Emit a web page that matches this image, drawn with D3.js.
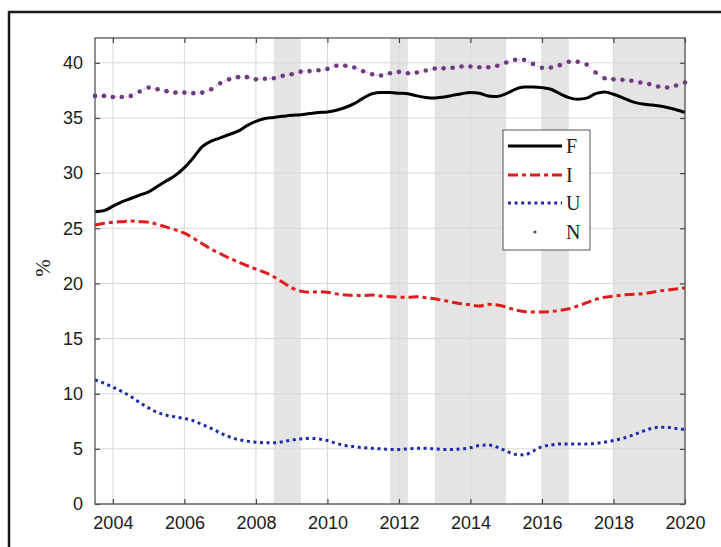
<!DOCTYPE html>
<html><head><meta charset="utf-8">
<script src="https://cdn.jsdelivr.net/npm/d3@7"></script>
<style>html,body{margin:0;padding:0;background:#fff;}svg{display:block;}</style>
</head><body>
<svg id="chart" width="721" height="547"></svg>
<script>
// Quarterly observations, first = 2003 Q3 (2003.5), last = 2020 Q1 (2020.0)
const startTime = 2003.5;
const stepTime = 0.25;
const seriesNames = ["F", "I", "U", "N"];
const F = [26.5,26.6,
  27.0,27.4,27.7,28.0, 28.3,28.8,29.3,29.8, 30.5,31.4,32.4,32.9, 33.2,33.5,33.8,34.3,
  34.7,34.95,35.05,35.15, 35.25,35.3,35.4,35.5, 35.55,35.7,35.95,36.3, 36.8,37.2,37.3,37.3,
  37.25,37.2,37.0,36.85, 36.8,36.9,37.05,37.2, 37.3,37.25,37.0,36.95, 37.2,37.6,37.8,37.8,
  37.75,37.6,37.2,36.85, 36.7,36.8,37.2,37.35, 37.15,36.85,36.5,36.3, 36.2,36.1,35.95,35.75,
  35.5];
const I = [25.3,25.45,
  25.55,25.6,25.65,25.6, 25.55,25.35,25.1,24.85, 24.55,24.1,23.6,23.1, 22.7,22.3,21.95,21.6,
  21.3,21.0,20.6,20.1, 19.6,19.3,19.2,19.25, 19.2,19.05,18.95,18.9, 18.9,18.95,18.85,18.8,
  18.75,18.75,18.8,18.7, 18.6,18.45,18.3,18.15, 18.05,17.95,18.1,18.05, 17.85,17.6,17.45,17.4,
  17.4,17.45,17.55,17.7, 17.95,18.25,18.55,18.75, 18.85,18.95,19.0,19.05, 19.15,19.3,19.4,19.5,
  19.6];
const U = [11.25,10.95,
  10.6,10.2,9.75,9.2, 8.7,8.3,8.05,7.9, 7.75,7.55,7.2,6.85, 6.45,6.1,5.85,5.7,
  5.6,5.55,5.55,5.65, 5.8,5.9,5.95,5.9, 5.75,5.5,5.3,5.2, 5.1,5.05,5.0,4.95,
  4.95,5.0,5.05,5.05, 5.0,4.95,4.95,5.0, 5.1,5.3,5.35,5.15, 4.8,4.5,4.45,4.8,
  5.2,5.35,5.45,5.45, 5.45,5.45,5.5,5.6, 5.75,5.95,6.2,6.5, 6.8,6.95,6.95,6.85,
  6.75];
const N = [37.0,37.0,
  36.9,36.9,37.0,37.4, 37.76,37.6,37.43,37.3, 37.3,37.25,37.3,37.6, 38.15,38.5,38.7,38.7,
  38.5,38.55,38.6,38.82, 38.97,39.2,39.25,39.33, 39.45,39.73,39.73,39.57, 39.24,38.97,38.85,39.06,
  39.18,39.06,39.12,39.3, 39.48,39.5,39.55,39.67, 39.67,39.6,39.6,39.73, 40.03,40.27,40.27,39.9,
  39.55,39.57,39.79,40.1, 40.09,39.85,39.12,38.6, 38.5,38.46,38.37,38.22, 38.07,37.85,37.76,37.94,
  38.22];
// Shaded periods (start, end)
const bandStarts = [2008.5, 2011.75, 2013.0, 2016.0, 2018.0];
const bandEnds   = [2009.25, 2012.25, 2015.0, 2016.75, 2020.0];
const xTicks = [2004, 2006, 2008, 2010, 2012, 2014, 2016, 2018, 2020];
const yTicks = [0, 5, 10, 15, 20, 25, 30, 35, 40];
const yLabel = "%";

const svg = d3.select("#chart");
const L = 95, R = 685, T = 38, B = 504;
const x = d3.scaleLinear().domain([2003.5, 2020]).range([L, R]);
const y = d3.scaleLinear().domain([0, 42.25]).range([B, T]);
const times = F.map((_, i) => startTime + i * stepTime);

// outer frame
svg.append("rect").attr("x", 9).attr("y", 12).attr("width", 900).attr("height", 700)
  .attr("fill", "none").attr("stroke", "#1a1a1a").attr("stroke-width", 2.5);

const plot = svg.append("g");
// bands
plot.selectAll("rect.band").data(bandStarts).enter().append("rect").attr("class", "band")
  .attr("x", d => x(d)).attr("y", T)
  .attr("width", (d, i) => x(bandEnds[i]) - x(d)).attr("height", B - T)
  .attr("fill", "#e4e4e4");
// grid
plot.selectAll("line.gx").data(xTicks).enter().append("line")
  .attr("x1", d => x(d)).attr("x2", d => x(d)).attr("y1", T).attr("y2", B)
  .attr("stroke", "#d8d8d8").attr("stroke-width", 1);
plot.selectAll("line.gy").data(yTicks).enter().append("line")
  .attr("y1", d => y(d)).attr("y2", d => y(d)).attr("x1", L).attr("x2", R)
  .attr("stroke", "#d8d8d8").attr("stroke-width", 1);

// axes
const fontSans = "Liberation Sans, Arial, Helvetica, sans-serif";
const xAxis = svg.append("g").attr("transform", `translate(0,${B})`)
  .call(d3.axisBottom(x).tickValues(xTicks).tickFormat(d3.format("d")).tickSizeInner(-5).tickSizeOuter(0).tickPadding(12));
const xAxisTop = svg.append("g").attr("transform", `translate(0,${T})`)
  .call(d3.axisTop(x).tickValues(xTicks).tickFormat("").tickSizeInner(-5).tickSizeOuter(0));
const yAxis = svg.append("g").attr("transform", `translate(${L},0)`)
  .call(d3.axisLeft(y).tickValues(yTicks).tickSizeInner(-5).tickSizeOuter(0).tickPadding(12));
const yAxisR = svg.append("g").attr("transform", `translate(${R},0)`)
  .call(d3.axisRight(y).tickValues(yTicks).tickFormat("").tickSizeInner(-5).tickSizeOuter(0));
[xAxis, xAxisTop, yAxis, yAxisR].forEach(a => {
  a.select(".domain").remove();
  a.selectAll(".tick line").attr("stroke", "#444").attr("stroke-width", 1.2);
  a.selectAll("text").attr("font-family", fontSans).attr("font-size", 18).attr("fill", "#1a1a1a");
});

// series
const lineGen = vals => d3.line().x((d, i) => x(times[i])).y(d => y(d)).curve(d3.curveMonotoneX)(vals);
plot.append("path").attr("d", lineGen(N)).attr("fill", "none")
  .attr("stroke", "#e7c3e4").attr("stroke-width", 1.5).attr("stroke-dasharray", "2,3");
plot.selectAll("circle.n").data(N).enter().append("circle")
  .attr("cx", (d, i) => x(times[i])).attr("cy", d => y(d)).attr("r", 2.3).attr("fill", "#6e3a80");
plot.append("path").attr("d", lineGen(U)).attr("fill", "none")
  .attr("stroke", "#1f2aa8").attr("stroke-width", 3).attr("stroke-dasharray", "3,3.6");
plot.append("path").attr("d", lineGen(I)).attr("fill", "none")
  .attr("stroke", "#e01b1b").attr("stroke-width", 3).attr("stroke-dasharray", "10,4,4,4");
plot.append("path").attr("d", lineGen(F)).attr("fill", "none")
  .attr("stroke", "#000").attr("stroke-width", 3);

// box
svg.append("rect").attr("x", L).attr("y", T).attr("width", R - L).attr("height", B - T)
  .attr("fill", "none").attr("stroke", "#555").attr("stroke-width", 1.3);

// y label
svg.append("text").attr("transform", "translate(50,268) rotate(-90)").attr("text-anchor", "middle")
  .attr("font-family", "Liberation Serif, Times New Roman, serif").attr("font-size", 21).attr("fill", "#222").text(yLabel);

// legend
const lg = svg.append("g");
lg.append("rect").attr("x", 503).attr("y", 130).attr("width", 87).attr("height", 120)
  .attr("fill", "#fff").attr("stroke", "#555").attr("stroke-width", 1);
const ly = [146, 175, 203, 232];
const styles = [
  {c: "#000", dash: null},
  {c: "#e01b1b", dash: "10,4,4,4"},
  {c: "#1f2aa8", dash: "3,3.6"},
  {c: "#555", dot: true}
];
seriesNames.forEach((nm, i) => {
  const s = styles[i];
  if (s.dot) {
    lg.append("circle").attr("cx", 535).attr("cy", ly[i]).attr("r", 1.6).attr("fill", "#5a4a60");
  } else {
    const l = lg.append("line").attr("x1", 508).attr("x2", 562).attr("y1", ly[i]).attr("y2", ly[i])
      .attr("stroke", s.c).attr("stroke-width", 3);
    if (s.dash) l.attr("stroke-dasharray", s.dash);
  }
  lg.append("text").attr("x", 566).attr("y", ly[i] + 7).attr("font-family", "Liberation Serif, Times New Roman, serif")
    .attr("font-size", 20).attr("fill", "#222").text(nm);
});
</script>
</body></html>
